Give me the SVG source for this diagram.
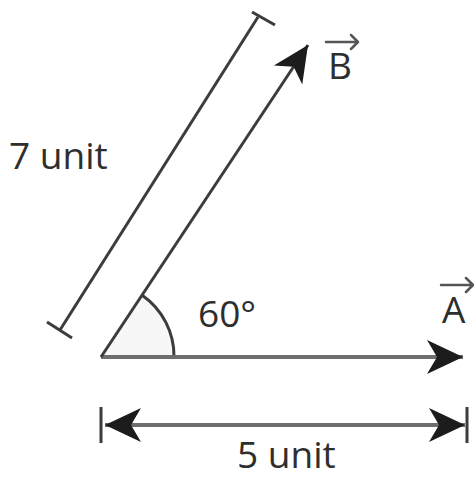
<svg xmlns="http://www.w3.org/2000/svg" width="474" height="478" viewBox="0 0 474 478">
<style>
.lbl{font-family:"Open Sans","Liberation Sans",sans-serif;font-size:37px;fill:#2e2e2e}
.thin{stroke:#3c3c3c;stroke-width:3;fill:none}
.thick{stroke:#6e6e6e;stroke-width:4;fill:none}
.vec{stroke:#555;stroke-width:2.5;fill:none;stroke-linecap:round;stroke-linejoin:round}
</style>
<defs>
<marker id="head" viewBox="-40 -20 44 40" markerWidth="44" markerHeight="40" refX="0" refY="0" markerUnits="userSpaceOnUse" orient="auto-start-reverse">
<path d="M0,0 L-36,-17 L-26,0 L-36,17 Z" fill="#1c1c1c"/>
</marker>
</defs>
<rect width="474" height="478" fill="#fff"/>
<g id="angle">
<path d="M101,357 L143,295 A74,74 0 0 1 174,357 Z" fill="#f7f7f7" stroke="none"/>
<path d="M142.5,295.5 A74,74 0 0 1 174,357" class="thin"/>
</g>
<g id="connectors">
<line id="vecA" x1="101" y1="357" x2="463" y2="357" class="thick" marker-end="url(#head)"/>
<line id="vecB" x1="101" y1="357" x2="308" y2="45" class="thin" marker-end="url(#head)"/>
<g id="dim7">
<line x1="60" y1="330" x2="258" y2="17" class="thin"/>
<line x1="47" y1="322" x2="72" y2="338" class="thin"/>
<line x1="252" y1="12" x2="275" y2="25" class="thin"/>
</g>
<g id="dim5">
<line x1="105" y1="425" x2="465" y2="425" class="thick" marker-start="url(#head)" marker-end="url(#head)"/>
<line x1="101" y1="407" x2="101" y2="443" class="thin"/>
<line x1="467" y1="407" x2="467" y2="443" class="thin"/>
</g>
</g>
<g id="label7"><text class="lbl" x="9" y="169">7 unit</text></g>
<g id="label5"><text class="lbl" x="237" y="468">5 unit</text></g>
<g id="label60"><text class="lbl" x="198" y="327">60°</text></g>
<g id="labelB">
<text class="lbl" x="328" y="79">B</text>
<path d="M326,42 L357,42 M351,35 L358,42 L351,49" class="vec"/>
</g>
<g id="labelA">
<text class="lbl" x="442" y="323">A</text>
<path d="M441,285 L472,285 M466,278 L473,285 L466,292" class="vec"/>
</g>
</svg>
